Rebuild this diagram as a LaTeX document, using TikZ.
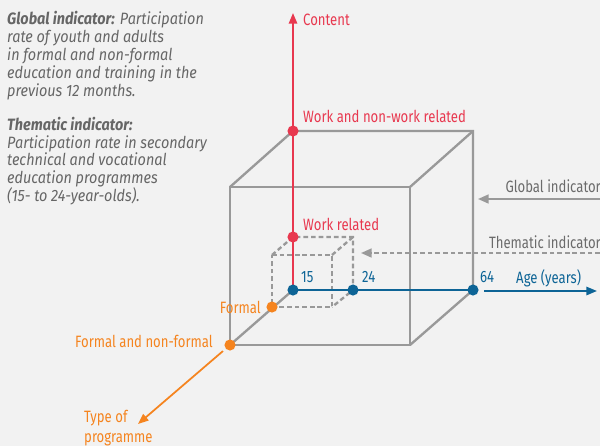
\documentclass[tikz,border=0pt]{standalone}
\usepackage{fontspec}
\setmainfont{Fira Sans}[FakeStretch=0.8]
\newfontfamily\notefont{Fira Sans}[FakeStretch=0.88]
\usetikzlibrary{arrows.meta}

\definecolor{contentred}{HTML}{E8384F}
\definecolor{ageblue}{HTML}{0D6496}
\definecolor{typeorange}{HTML}{F5841F}
\definecolor{edgegray}{HTML}{999999}
\definecolor{notegray}{HTML}{666666}
\definecolor{bggray}{HTML}{F2F2F2}

\begin{document}
\begin{tikzpicture}[x=0.03cm, y=-0.03cm,
  edge/.style={edgegray, line width=2pt},
  hidden/.style={edgegray, line width=2pt, dash pattern=on 4pt off 2.5pt},
  axis/.style={line width=1.7pt, -{Triangle[length=9pt,width=7pt]}},
  dot/.style={circle, fill=#1, inner sep=0pt, minimum size=9.5pt},
  lbl/.style={font=\fontsize{14}{15}\selectfont, inner sep=0pt}]
\fill[bggray] (0,0) rectangle (600,446);
\useasboundingbox (0,0) rectangle (600,446);

% notes on the left
\node[anchor=north west, inner sep=0pt, align=left, text=notegray,
  font=\notefont\fontsize{14}{15.3}\selectfont\itshape] (notes) at (7,11)
  {\textbf{Global indicator:} Participation\\
   rate of youth and adults\\
   in formal and non-formal\\
   education and training in the\\
   previous 12 months.\\[13.6pt]
   \textbf{Thematic indicator:}\\
   Participation rate in secondary\\
   technical and vocational\\
   education programmes\\
   (15- to 24-year-olds).};

% large cube
\coordinate (O) at (293,290);
\coordinate (bTR) at (473,131);
\coordinate (fTL) at (230,187);
\coordinate (fTR) at (410,187);
\coordinate (fBR) at (410,345);
\coordinate (bTL) at (293,131);
\coordinate (bBR) at (473,290);
\coordinate (fBL) at (230,345);
\draw[edge] (fTL) -- (fTR) -- (fBR) -- (fBL) -- cycle;
\draw[edge] (fTL) -- (bTL) -- (bTR) -- (bBR) -- (fBR);
\draw[edge] (fTR) -- (bTR);
\draw[edge] (fBL) -- (O);

% small cube
\coordinate (sbTL) at (293,237);
\coordinate (sbTR) at (353,237);
\coordinate (sbBR) at (353,290);
\coordinate (sfTL) at (272,255);
\coordinate (sfTR) at (332,255);
\coordinate (sfBL) at (272,307);
\coordinate (sfBR) at (332,307);
\draw[hidden] (sfTL) -- (sfTR) -- (sfBR) -- (sfBL) -- cycle;
\draw[hidden] (sfTL) -- (sbTL) -- (sbTR) -- (sbBR) -- (sfBR);
\draw[hidden] (sfTR) -- (sbTR);

% indicator arrows
\coordinate (gstart) at (600,199);
\coordinate (gend) at (478,199);
\coordinate (tstart) at (600,253);
\coordinate (tend) at (361,253);
\draw[edgegray, line width=1.6pt, -{Triangle[length=9pt,width=7.5pt]}] (gstart) -- (gend);
\draw[edgegray, line width=1.6pt, dash pattern=on 4pt off 2.5pt,
  -{Triangle[length=9pt,width=7.5pt]}] (tstart) -- (tend);
\node[lbl, text=edgegray!70!black, anchor=east] (glbl) at (601,186) {Global indicator};
\node[lbl, text=edgegray!70!black, anchor=east] (tlbl) at (601,242) {Thematic indicator};

% content axis
\coordinate (ctop) at (293,13);
\draw[axis, contentred] (O) -- (ctop);
\node[dot=contentred] (wnw) at (bTL) {};
\node[dot=contentred] (wr) at (sbTL) {};
\node[lbl, text=contentred, anchor=west] (clbl) at (303,20) {Content};
\node[lbl, text=contentred, anchor=west] (wnwlbl) at (303,116) {Work and non-work related};
\node[lbl, text=contentred, anchor=west] (wrlbl) at (303,224) {Work related};

% age axis
\coordinate (astart) at (484,291);
\coordinate (aend) at (597,291);
\draw[ageblue, line width=1.7pt] (O) -- (bBR);
\draw[axis, ageblue] (astart) -- (aend);
\node[dot=ageblue] (a15) at (O) {};
\node[dot=ageblue] (a24) at (sbBR) {};
\node[dot=ageblue] (a64) at (bBR) {};
\node[lbl, text=ageblue, anchor=west] (l15) at (301,277) {15};
\node[lbl, text=ageblue, anchor=west] (l24) at (362,277) {24};
\node[lbl, text=ageblue, anchor=west] (l64) at (480,277) {64};
\node[lbl, text=ageblue, anchor=west] (agelbl) at (516,278) {Age (years)};

% programme axis
\coordinate (pend) at (138,424);
\node[dot=typeorange] (fnf) at (fBL) {};
\node[dot=typeorange] (fml) at (sfBL) {};
\draw[axis, typeorange, line width=1.5pt, shorten <=3pt] (fnf) -- (pend);
\node[lbl, text=typeorange, anchor=east] (fmllbl) at (261,307) {Formal};
\node[lbl, text=typeorange, anchor=east] (fnflbl) at (213,341) {Formal and non-formal};
\node[lbl, text=typeorange, anchor=north west, align=left,
  font=\fontsize{14}{17}\selectfont] (typelbl) at (84,410) {Type of\\programme};
\end{tikzpicture}
\end{document}
